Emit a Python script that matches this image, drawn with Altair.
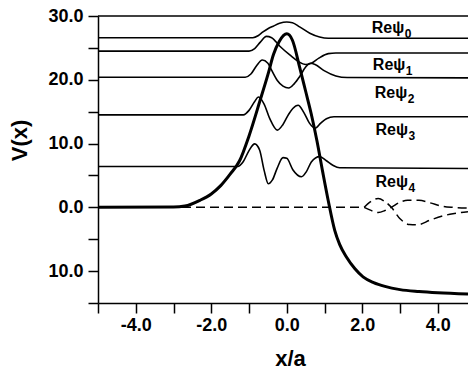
import altair as alt
import pandas as pd

# Potential barrier V(x)
pot_x = [-5.0, -3.0, -2.7, -2.3, -2.0, -1.75, -1.5, -1.25, -1.0, -0.7, -0.5, -0.35, -0.2, 0.0,
         0.15, 0.34, 0.5, 0.65, 0.8, 0.95, 1.1, 1.27, 1.4, 1.58, 1.8, 2.02, 2.3, 2.6, 3.0, 3.5, 4.0, 4.8]
pot_v = [0.0, 0.05, 0.2, 1.1, 2.1, 3.4, 5.2, 7.3, 11.2, 16.9, 20.8, 24.0, 26.0, 27.2,
         26.2, 22.0, 18.2, 14.6, 10.4, 5.6, 1.0, -3.6, -5.8, -7.8, -9.6, -10.9, -11.8, -12.4, -12.9, -13.2, -13.4, -13.6]

# Re psi_n, each drawn on its own energy level
psi0_x = [-5.0, -0.9, -0.75, -0.63, -0.5, -0.36, -0.19, 0.0, 0.15, 0.34, 0.61, 0.87, 1.1, 4.8]
psi0_v = [26.6, 26.6, 26.95, 27.5, 28.0, 28.4, 28.85, 29.05, 28.95, 28.3, 27.3, 26.7, 26.5, 26.5]

psi1_x = [-5.0, -1.0, -0.85, -0.7, -0.54, -0.4, -0.19, 0.08, 0.3, 0.5, 0.65, 0.85, 1.1, 1.3, 4.8]
psi1_v = [24.5, 24.5, 24.9, 25.9, 26.8, 26.6, 25.3, 23.9, 22.9, 22.4, 22.6, 23.4, 24.1, 24.2, 24.2]

psi2_x = [-5.0, -1.1, -0.95, -0.8, -0.65, -0.5, -0.41, -0.25, -0.1, 0.05, 0.2, 0.34, 0.5, 0.62,
          0.75, 1.0, 1.3, 1.6, 4.8]
psi2_v = [20.4, 20.4, 20.9, 22.2, 23.1, 22.6, 21.6, 19.9, 19.0, 18.7, 19.4, 20.5, 22.0, 22.6,
          22.4, 21.4, 20.6, 20.35, 20.3]

psi3_x = [-5.0, -1.15, -1.0, -0.85, -0.75, -0.6, -0.45, -0.25, -0.1, 0.05, 0.16, 0.3, 0.45, 0.6,
          0.75, 0.9, 1.05, 1.25, 4.8]
psi3_v = [14.5, 14.5, 15.2, 16.6, 17.3, 16.2, 13.9, 12.1, 13.0, 14.6, 15.5, 16.0, 14.9, 13.2,
          12.4, 13.2, 13.9, 14.2, 14.2]

psi4_x = [-5.0, -1.3, -1.15, -1.0, -0.85, -0.72, -0.6, -0.49, -0.38, -0.25, -0.1, 0.0, 0.16, 0.39,
          0.52, 0.65, 0.87, 1.05, 1.22, 1.4, 4.8]
psi4_v = [6.4, 6.4, 7.2, 8.9, 9.95, 9.0, 5.8, 3.7, 4.3, 6.2, 7.8, 7.7, 5.9, 4.8,
          5.6, 7.1, 7.95, 7.3, 6.6, 6.2, 6.1]

# Dashed zero level and the two transmitted waves beyond the barrier
zero_x = [-5.0, 2.05]
zero_v = [0.0, 0.0]
wave_a_x = [2.05, 2.2, 2.42, 2.6, 2.77, 3.0, 3.25, 3.45, 3.8, 4.1, 4.4, 4.8]
wave_a_v = [0.0, 0.8, 1.4, 0.9, 0.0, -1.8, -2.7, -2.75, -2.0, -1.4, -1.0, -0.7]
wave_b_x = [2.05, 2.2, 2.42, 2.6, 2.77, 3.0, 3.2, 3.5, 3.8, 4.1, 4.4, 4.8]
wave_b_v = [0.0, -0.4, -0.8, -0.5, 0.0, 0.8, 1.1, 1.1, 0.7, 0.2, 0.0, -0.1]

# Curve labels
lab_text = ["Reψ", "Reψ", "Reψ", "Reψ", "Reψ"]
lab_sub = ["0", "1", "2", "3", "4"]
lab_x = [2.25, 2.28, 2.33, 2.35, 2.35]
lab_y = [27.3, 21.5, 17.1, 11.3, 3.2]

# frame line across the top of the plot
top_v = [30.0]


def frame(name, xs, vs):
    return pd.DataFrame({"series": name, "x": xs, "v": vs})


waves = pd.concat([
    frame("psi0", psi0_x, psi0_v),
    frame("psi1", psi1_x, psi1_v),
    frame("psi2", psi2_x, psi2_v),
    frame("psi3", psi3_x, psi3_v),
    frame("psi4", psi4_x, psi4_v),
])
dashed = pd.concat([
    frame("zero", zero_x, zero_v),
    frame("a", wave_a_x, wave_a_v),
    frame("b", wave_b_x, wave_b_v),
])
potential = frame("V", pot_x, pot_v)
labels = pd.DataFrame({"t": lab_text, "s": lab_sub, "x": lab_x, "v": lab_y})

FONT = "Liberation Sans"
x_scale = alt.Scale(domain=[-5, 4.8], nice=False, zero=False)
y_scale = alt.Scale(domain=[-15, 30], nice=False, zero=False)

x_enc = alt.X(
    "x:Q",
    scale=x_scale,
    axis=alt.Axis(
        values=list(range(-5, 5)),
        labelExpr="datum.value % 2 == 0 ? (datum.value < 0 ? '-' : '') + format(abs(datum.value), '.1f') : ''",
        title="x/a", titleX=192, titleY=62, titleBaseline="alphabetic",
        titleFont=FONT, titleFontSize=22, titleFontWeight="bold",
        labelOverlap=False,
    ),
)
y_enc = alt.Y(
    "v:Q",
    scale=y_scale,
    axis=alt.Axis(
        values=list(range(-15, 31, 5)),
        labelExpr="datum.value % 10 == 0 ? format(abs(datum.value), '.1f') : ''",
        title="V(x)", titleX=-79, titleY=124, titleBaseline="middle",
        titleFont=FONT, titleFontSize=22, titleFontWeight="bold",
        labelOverlap=False,
    ),
)

wave_lines = alt.Chart(waves).mark_line(
    color="black", strokeWidth=1.6, interpolate="monotone", clip=True
).encode(x=x_enc, y=y_enc, detail="series:N")

dash_lines = alt.Chart(dashed).mark_line(
    color="black", strokeWidth=1.5, strokeDash=[9, 5], interpolate="monotone", clip=True
).encode(x=x_enc, y=y_enc, detail="series:N")

pot_line = alt.Chart(potential).mark_line(
    color="black", strokeWidth=3, interpolate="monotone", clip=True
).encode(x=x_enc, y=y_enc)

top_line = alt.Chart(pd.DataFrame({"v": top_v})).mark_rule(
    color="black", strokeWidth=1.5
).encode(y=y_enc)

lab_main = alt.Chart(labels).mark_text(
    align="left", baseline="alphabetic", font=FONT, fontSize=16, fontWeight="bold", color="black"
).encode(x=x_enc, y=y_enc, text="t:N")

lab_subs = alt.Chart(labels).mark_text(
    align="left", baseline="alphabetic", font=FONT, fontSize=12, fontWeight="bold", color="black",
    dx=33, dy=5
).encode(x=x_enc, y=y_enc, text="s:N")

chart = alt.layer(wave_lines, dash_lines, pot_line, top_line, lab_main, lab_subs).properties(
    width=370, height=287,
    autosize=alt.AutoSizeParams(type="none"),
    padding={"left": 98, "top": 16, "right": 0, "bottom": 66},
).configure_view(stroke=None).configure_axis(
    grid=False, domainColor="black", domainWidth=1.5, tickColor="black", tickWidth=1.5,
    tickSize=10, labelFont=FONT, labelFontSize=18, labelFontWeight="bold", labelColor="black",
    titleColor="black",
).configure_axisX(labelPadding=3).configure_axisY(labelPadding=5)

chart.save("out.html", embed_options={"renderer": "svg", "actions": False})
